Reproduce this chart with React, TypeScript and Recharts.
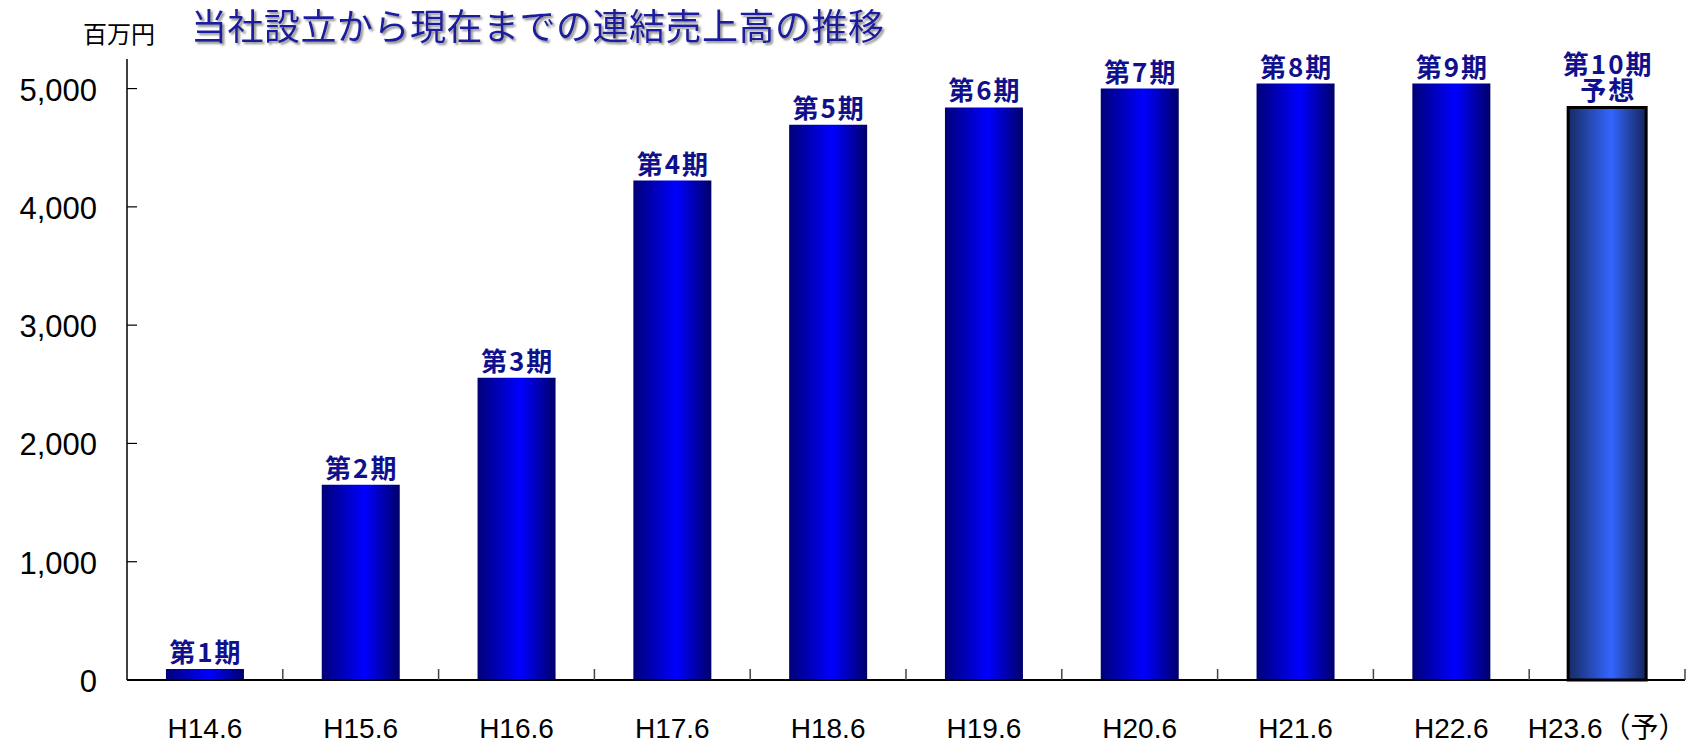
import { Bar, BarChart, Cell, LabelList, XAxis, YAxis } from "recharts";

const categories = ["H14.6", "H15.6", "H16.6", "H17.6", "H18.6", "H19.6", "H20.6", "H21.6", "H22.6", "H23.6（予）"];
const sales = [93, 1650, 2555, 4222, 4695, 4840, 5000, 5042, 5042, 4840];
const periods = ["第1期", "第2期", "第3期", "第4期", "第5期", "第6期", "第7期", "第8期", "第9期", "第10期\n予想"];
const yTicks = [0, 1000, 2000, 3000, 4000, 5000];

const W = 1686;
const H = 744;
const AXIS_X = 127;
const BASE_Y = 680;
const MARGIN = { top: 59, right: 1, left: 0, bottom: 0 };
const BAND = (W - AXIS_X - MARGIN.right) / categories.length;

const data = categories.map((c, i) => ({ cat: c, sales: sales[i], period: periods[i] }));

const NAVY = "#10108c";
const JP = "'Noto Sans CJK JP', 'Noto Sans', sans-serif";

const YTick = ({ y, payload }: any) => (
  <g>
    <text x={AXIS_X - 30} y={y + 12} textAnchor="end" fontSize={31} fontFamily="'Liberation Sans', Arial" fill="#000">
      {Number(payload.value).toLocaleString("en-US")}
    </text>
    <line x1={AXIS_X} x2={AXIS_X + 10} y1={y} y2={y} stroke="#000" strokeWidth={1.2} />
  </g>
);

const XTick = ({ x, payload }: any) => (
  <g>
    <text x={x} y={BASE_Y + 58} textAnchor="middle" fontSize={28} fontFamily={`'Liberation Sans', ${JP}`} fill="#000">
      {payload.value}
    </text>
    <line x1={x + BAND / 2} x2={x + BAND / 2} y1={BASE_Y} y2={BASE_Y - 11} stroke="#444" strokeWidth={1.5} />
  </g>
);

// period label above each bar, second line for the forecast
const PeriodLabel = ({ x, y, width, value }: any) => {
  const lines = String(value).split("\n");
  const cx = x + width / 2;
  return (
    <text textAnchor="middle" fontSize={26} fontWeight="bold" fontFamily={JP} fill={NAVY} letterSpacing={2}>
      {lines.map((ln, i) => (
        <tspan key={i} x={cx + 1} y={y - 7 - (lines.length - 1 - i) * 26}>
          {ln}
        </tspan>
      ))}
    </text>
  );
};

export default function App() {
  return (
    <div style={{ position: "absolute", left: 0, top: 0, width: W, height: H, background: "#fff" }}>
      <BarChart width={W} height={H} data={data} margin={MARGIN} barCategoryGap="25%">
        <defs>
          <linearGradient id="barGrad" x1="0" y1="0" x2="1" y2="0">
            <stop offset="0%" stopColor="#000078" />
            <stop offset="55%" stopColor="#0000ff" />
            <stop offset="100%" stopColor="#00006a" />
          </linearGradient>
          <linearGradient id="foreGrad" x1="0" y1="0" x2="1" y2="0">
            <stop offset="0%" stopColor="#172a63" />
            <stop offset="55%" stopColor="#3366ff" />
            <stop offset="100%" stopColor="#14245a" />
          </linearGradient>
        </defs>
        <XAxis
          dataKey="cat"
          height={64}
          interval={0}
          tickLine={false}
          axisLine={{ stroke: "#000", strokeWidth: 2 }}
          tick={<XTick />}
        />
        <YAxis
          width={AXIS_X}
          domain={[0, 5250]}
          ticks={yTicks}
          tickLine={false}
          axisLine={{ stroke: "#000", strokeWidth: 1.5 }}
          tick={<YTick />}
        />
        <Bar dataKey="sales" isAnimationActive={false}>
          {data.map((_, i) => (
            <Cell
              key={i}
              fill={i === data.length - 1 ? "url(#foreGrad)" : "url(#barGrad)"}
              stroke={i === data.length - 1 ? "#000" : "none"}
              strokeWidth={i === data.length - 1 ? 3 : 0}
            />
          ))}
          <LabelList dataKey="period" content={<PeriodLabel />} />
        </Bar>
      </BarChart>
      <svg width={W} height={H} style={{ position: "absolute", left: 0, top: 0, pointerEvents: "none" }}>
        <defs>
          <filter id="shadow" x="-5%" y="-30%" width="110%" height="180%">
            <feDropShadow dx="2" dy="2" stdDeviation="1" floodColor="#8a8a8a" />
          </filter>
        </defs>
        <text x={83} y={43} fontSize={24} fontFamily={JP} fill="#000">百万円</text>
        <text x={191} y={40} fontSize={36} fontFamily={JP} fill="#1a1a9e" filter="url(#shadow)" letterSpacing={0.5}>
          当社設立から現在までの連結売上高の推移
        </text>
      </svg>
    </div>
  );
}
